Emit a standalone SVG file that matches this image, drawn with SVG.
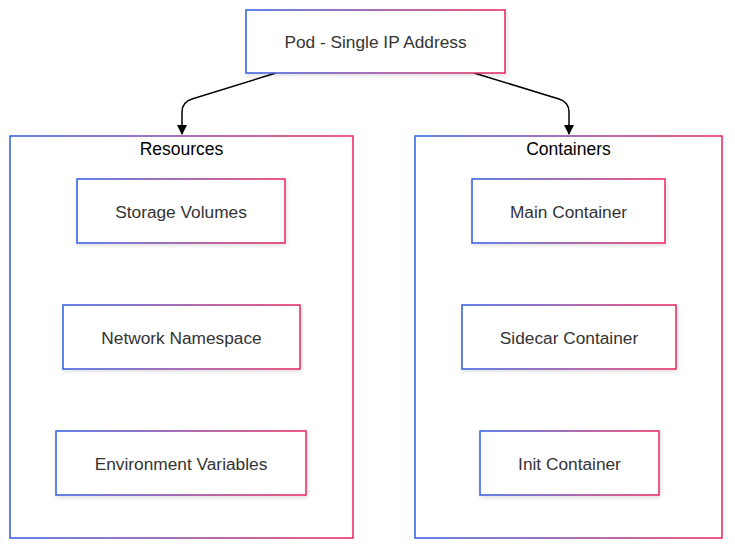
<svg xmlns="http://www.w3.org/2000/svg" width="735" height="550" viewBox="0 0 735 550">
<defs>
<linearGradient id="g" x1="0" y1="0" x2="1" y2="0" gradientUnits="objectBoundingBox">
<stop offset="0" stop-color="#2f5ce0"/>
<stop offset="1" stop-color="#e8245a"/>
</linearGradient>
<filter id="sh" x="-10%" y="-10%" width="120%" height="130%">
<feDropShadow dx="1" dy="2" stdDeviation="2" flood-color="#000" flood-opacity="0.12"/>
</filter>
<marker id="arr" viewBox="0 0 10 10" refX="9" refY="5" markerWidth="10" markerHeight="10" markerUnits="userSpaceOnUse" orient="auto">
<path d="M0,0 L10,5 L0,10 z" fill="#000"/>
</marker>
</defs>
<style>
.box{fill:#fff;stroke:url(#g);stroke-width:1.5;filter:url(#sh)}
.cl{fill:#fff;stroke:url(#g);stroke-width:1.5}
.t{font-family:"Liberation Sans",Arial,sans-serif;font-size:17.3px;fill:#333;text-anchor:middle}
.ct{font-family:"Liberation Sans",Arial,sans-serif;font-size:17.5px;fill:#000;text-anchor:middle}
.e{fill:none;stroke:#000;stroke-width:1.5}
</style>
<rect width="735" height="550" fill="#fff"/>
<g id="cluster-resources">
<rect class="cl" x="10" y="136" width="343" height="402"/>
<text class="ct" x="181.5" y="155">Resources</text>
</g>
<g id="cluster-containers">
<rect class="cl" x="415" y="136" width="307" height="402"/>
<text class="ct" x="568.5" y="155">Containers</text>
</g>
<g id="connectors">
<path class="e" d="M276,73 L192,99 Q182,102 182,112 L182,134" marker-end="url(#arr)"/>
<path class="e" d="M474,73 L559,99 Q569,102 569,112 L569,134" marker-end="url(#arr)"/>
</g>
<g id="pod">
<rect class="box" x="246" y="10" width="259" height="63"/>
<text class="t" x="375.5" y="47.5">Pod - Single IP Address</text>
</g>
<g id="storage">
<rect class="box" x="77" y="179" width="208" height="64"/>
<text class="t" x="181" y="217.5">Storage Volumes</text>
</g>
<g id="network">
<rect class="box" x="63" y="305" width="237" height="64"/>
<text class="t" x="181.5" y="343.5">Network Namespace</text>
</g>
<g id="env">
<rect class="box" x="56" y="431" width="250" height="64"/>
<text class="t" x="181" y="469.5">Environment Variables</text>
</g>
<g id="main">
<rect class="box" x="472" y="179" width="193" height="64"/>
<text class="t" x="568.5" y="217.5">Main Container</text>
</g>
<g id="sidecar">
<rect class="box" x="462" y="305" width="214" height="64"/>
<text class="t" x="569" y="343.5">Sidecar Container</text>
</g>
<g id="init">
<rect class="box" x="480" y="431" width="179" height="64"/>
<text class="t" x="569.5" y="469.5">Init Container</text>
</g>
</svg>
